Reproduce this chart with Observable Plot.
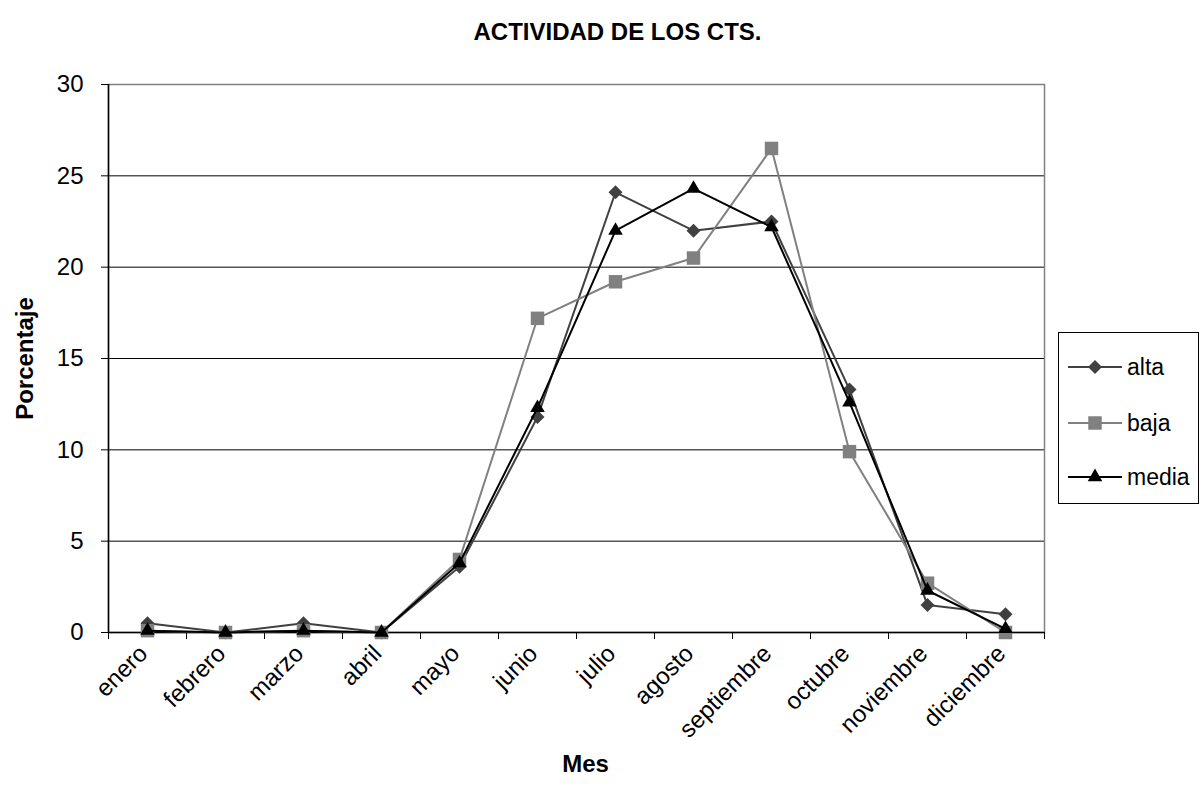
<!DOCTYPE html>
<html>
<head>
<meta charset="utf-8">
<script src="https://cdn.jsdelivr.net/npm/d3@7"></script>
<script src="https://cdn.jsdelivr.net/npm/@observablehq/plot@0.6"></script>
<style>
  body { margin: 0; background: #fff; font-family: Arial, "Liberation Sans", sans-serif; }
  #wrap { position: relative; width: 1203px; height: 799px; }
  #legend { position: absolute; left: 1058px; top: 332px; width: 141px; height: 172px; border: 1px solid #000; box-sizing: border-box; background: #fff; }
  .item { position: absolute; left: 9px; height: 24px; display: flex; align-items: center; font-size: 23px; color: #000; }
  .item svg { margin-right: 5px; }
</style>
</head>
<body>
<div id="wrap"><div id="chart"></div><div id="legend"></div></div>
<script>
const months = ["enero","febrero","marzo","abril","mayo","junio","julio","agosto","septiembre","octubre","noviembre","diciembre"];
const alta  = [0.5, 0, 0.5, 0, 3.6, 11.8, 24.1, 22.0, 22.5, 13.3, 1.5, 1.0];
const baja  = [0.1, 0, 0.1, 0, 4.0, 17.2, 19.2, 20.5, 26.5, 9.9, 2.7, 0];
const media = [0.1, 0, 0.1, 0, 3.8, 12.3, 22.0, 24.3, 22.2, 12.6, 2.3, 0.2];
const yTicks = [0, 5, 10, 15, 20, 25, 30];
const gridTicks = [5, 10, 15, 20, 25];

const series = [
  {name: "alta", values: alta, color: "#404040", symbol: "diamond2", r: 6.3},
  {name: "baja", values: baja, color: "#808080", symbol: "square", r: 7.6},
  {name: "media", values: media, color: "#000000", symbol: "triangle", r: 5.4}
];
const rows = s => s.values.map((v, i) => ({i, v}));
const boundaries = d3.range(13).map(k => k - 0.5);
const font = "Arial, 'Liberation Sans', sans-serif";

const marks = [
  Plot.ruleY(gridTicks, {stroke: "#000", strokeWidth: 1}),
  Plot.frame({stroke: "#808080", strokeWidth: 1.5}),
  Plot.ruleX([-0.5], {stroke: "#000", strokeWidth: 1.5}),
  Plot.ruleY([0], {stroke: "#000", strokeWidth: 1.5}),
  Plot.axisY(yTicks, {tickSize: 7, tickPadding: 18, fontSize: 24, tickFormat: d => d, label: null}),
  Plot.axisX(boundaries, {tickSize: 7, tickFormat: () => "", label: null}),
  Plot.axisX(d3.range(12), {tickSize: 0, tickRotate: -45, tickPadding: 17, dx: -4, fontSize: 24, tickFormat: i => months[i], label: null}),
];
for (const s of series) {
  marks.push(Plot.line(rows(s), {x: "i", y: "v", stroke: s.color, strokeWidth: 2}));
  marks.push(Plot.dot(rows(s), {x: "i", y: "v", symbol: () => s.symbol, fill: s.color, stroke: "none", r: s.r}));
}
marks.push(Plot.text(["ACTIVIDAD DE LOS CTS."], {frameAnchor: "top-left", textAnchor: "middle", lineAnchor: "top", dx: 509, dy: -62, fontSize: 24, fontWeight: "bold", fill: "#000"}));
marks.push(Plot.text(["Mes"], {frameAnchor: "bottom-left", textAnchor: "middle", lineAnchor: "bottom", dx: 477, dy: 139, fontSize: 24, fontWeight: "bold", fill: "#000"}));
marks.push(Plot.text(["Porcentaje"], {frameAnchor: "left", textAnchor: "middle", lineAnchor: "middle", dx: -83, dy: 0, rotate: -90, fontSize: 24, fontWeight: "bold", fill: "#000"}));

const chart = Plot.plot({
  width: 1203,
  height: 799,
  marginLeft: 108,
  marginRight: 159,
  marginTop: 84,
  marginBottom: 167,
  style: {fontFamily: font, color: "#000", background: "#fff", overflow: "visible"},
  x: {type: "linear", domain: [-0.5, 11.5]},
  y: {domain: [0, 30]},
  symbol: {type: "identity"},
  marks
});
document.getElementById("chart").appendChild(chart);

const legend = document.getElementById("legend");
const tops = [22, 78, 132];
series.forEach((s, k) => {
  const div = document.createElement("div");
  div.className = "item";
  div.style.top = tops[k] + "px";
  const type = s.symbol === "diamond2" ? d3.symbolDiamond2 : s.symbol === "square" ? d3.symbolSquare : d3.symbolTriangle;
  const sym = d3.symbol(type, s.r * s.r * Math.PI)();
  div.innerHTML = `<svg width="54" height="24"><line x1="0" x2="54" y1="12" y2="12" stroke="${s.color}" stroke-width="2"/><path d="${sym}" transform="translate(27,12)" fill="${s.color}"/></svg><span>${s.name}</span>`;
  legend.appendChild(div);
});
</script>
</body>
</html>
